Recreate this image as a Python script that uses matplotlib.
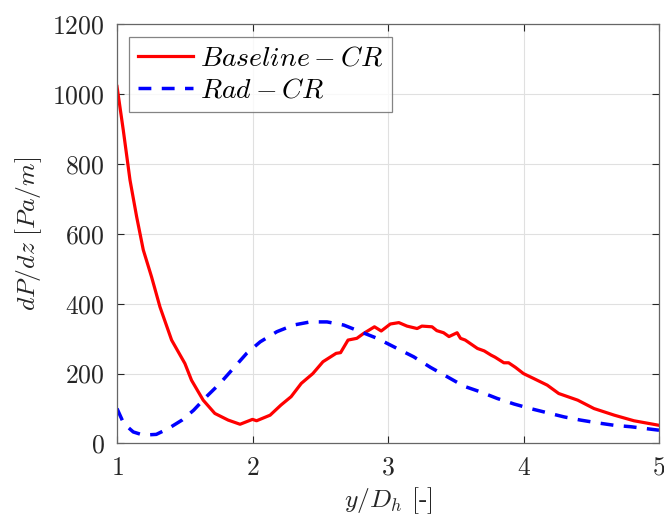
import matplotlib
matplotlib.use("Agg")
import matplotlib.pyplot as plt

plt.rcParams['mathtext.fontset'] = 'cm'
plt.rcParams['font.family'] = 'serif'
plt.rcParams['font.serif'] = ['cmr10', 'DejaVu Serif']
plt.rcParams['axes.formatter.use_mathtext'] = True

# Baseline-CR (red solid)
base_x = [1.0, 1.046, 1.096, 1.145, 1.194, 1.255, 1.317, 1.403, 1.501, 1.55,
          1.636, 1.722, 1.82, 1.908, 2.0, 2.03, 2.13, 2.21, 2.285, 2.36,
          2.445, 2.52, 2.617, 2.65, 2.705, 2.77, 2.82, 2.9, 2.95, 3.017,
          3.08, 3.14, 3.215, 3.25, 3.325, 3.36, 3.41, 3.45, 3.51, 3.535,
          3.57, 3.66, 3.71, 3.76, 3.79, 3.855, 3.89, 3.94, 4.0, 4.075,
          4.175, 4.26, 4.4, 4.52, 4.67, 4.815, 5.0]
base_y = [1022, 898, 754, 649, 554, 477, 391, 296, 229, 181,
          124, 86, 67, 55, 69, 65, 81, 110, 134, 172,
          200, 234, 258, 260, 296, 301, 315, 334, 322, 342,
          346, 336, 329, 336, 334, 323, 317, 306, 317, 301,
          296, 272, 265, 253, 247, 231, 231, 218, 200, 186,
          167, 143, 124, 100, 81, 65, 52]

# Rad-CR (blue dashed)
rad_x = [1.0, 1.05, 1.12, 1.194, 1.29, 1.38, 1.48, 1.565, 1.66, 1.76,
         1.87, 1.957, 2.057, 2.18, 2.303, 2.426, 2.55, 2.673, 2.796, 2.92,
         3.067, 3.19, 3.313, 3.437, 3.56, 3.68, 3.805, 3.93, 4.05, 4.175,
         4.3, 4.42, 4.545, 4.67, 4.79, 5.0]
rad_y = [100, 57, 33, 24, 26, 43, 67, 95, 134, 172,
         220, 258, 291, 320, 339, 348, 348, 339, 320, 301,
         272, 248, 218, 191, 164, 148, 129, 113, 100, 88,
         76, 67, 59, 52, 48, 38]

xticks = [1, 2, 3, 4, 5]
yticks = [0, 200, 400, 600, 800, 1000, 1200]

fig = plt.figure(figsize=(6.64, 5.21), dpi=100)
ax = fig.add_axes([0.1762, 0.1488, 0.8163, 0.8046])

ax.plot(base_x, base_y, color='red', lw=2.3, label=r'$Baseline-CR$')
ax.plot(rad_x, rad_y, color='blue', lw=2.5, ls=(0, (3.7, 3.0)), label=r'$Rad-CR$')

ax.set_xlim(1, 5)
ax.set_ylim(0, 1200)
ax.set_xticks(xticks)
ax.set_yticks(yticks)
ax.set_xticklabels([f'${v}$' for v in xticks])
ax.set_yticklabels([f'${v}$' for v in yticks])
ax.tick_params(direction='in', top=True, right=True, length=5, width=0.8,
               labelsize=18.5, colors='0.15', pad=9)
for s in ax.spines.values():
    s.set_color('0.4')
    s.set_linewidth(0.9)
ax.grid(True, color='0.88', lw=0.8)
ax.set_axisbelow(True)

ax.set_xlabel(r'$y/D_h$ [-]', fontsize=18.5, color='0.15', labelpad=4)
ax.set_ylabel(r'$dP/dz\ [Pa/m]$', fontsize=18.5, color='0.15', labelpad=6)

leg = ax.legend(loc='upper left', fontsize=20, frameon=True, fancybox=False,
                borderpad=0.3, handlelength=2.0, handletextpad=0.25,
                labelspacing=0.2, borderaxespad=0.45)
leg.get_frame().set_edgecolor('0.4')
leg.get_frame().set_linewidth(0.9)

fig.savefig('out.png', dpi=100)
